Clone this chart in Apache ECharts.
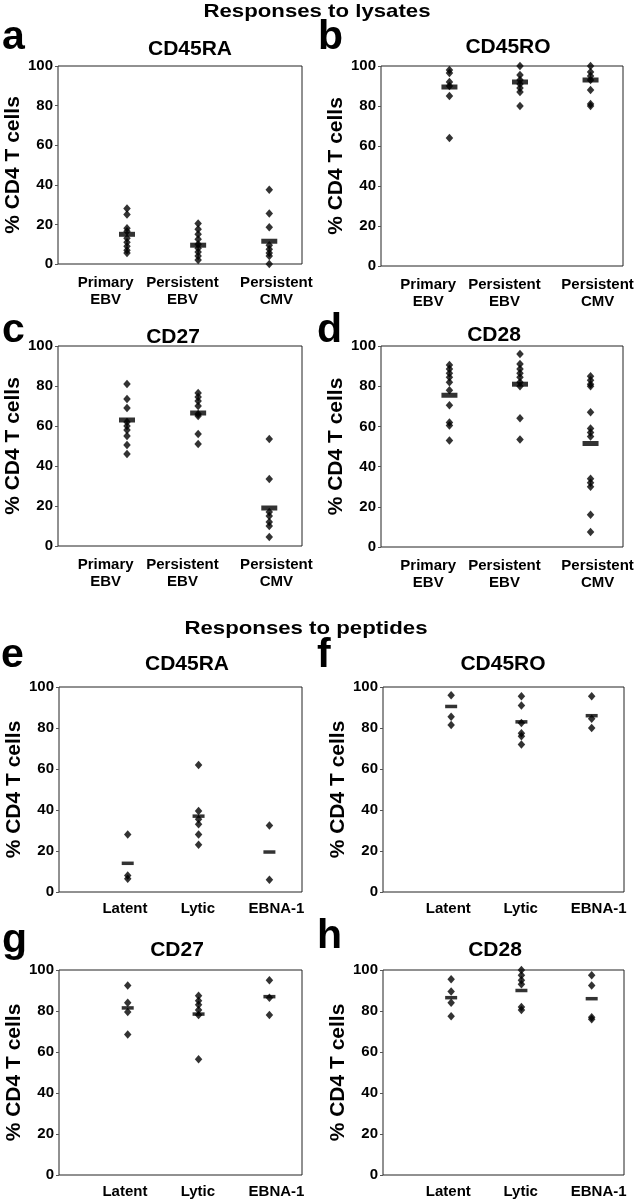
<!DOCTYPE html>
<html>
<head>
<meta charset="utf-8">
<script src="https://cdn.jsdelivr.net/npm/echarts@6/dist/echarts.min.js"></script>
<style>html,body{margin:0;padding:0;background:#fff;}#c{width:638px;height:1200px;}</style>
</head>
<body>
<div id="c"></div>
<script>
// ---------- DATA ----------
const lysateCats = ['Primary\nEBV', 'Persistent\nEBV', 'Persistent\nCMV'];
const peptideCats = ['Latent', 'Lytic', 'EBNA-1'];
const yTicks = [0, 20, 40, 60, 80, 100];

// a: CD45RA, lysates
const aPrimaryEBV = [28, 25, 18, 16.5, 13, 11, 9, 7, 5.5];
const aPersistentEBV = [20.5, 17.5, 15, 12.5, 10, 8, 6, 4, 2];
const aPersistentCMV = [37.5, 25.5, 18.5, 9.5, 7.5, 5.5, 4, 0];
const aMeans = [15, 9.5, 11.5];
// b: CD45RO, lysates
const bPrimaryEBV = [98, 96.5, 92, 90, 85, 64];
const bPersistentEBV = [100, 95.5, 93, 91, 89, 87, 80];
const bPersistentCMV = [100, 97, 95, 93, 88, 81, 80];
const bMeans = [89.5, 92, 93];
// c: CD27, lysates
const cPrimaryEBV = [81, 73.5, 69, 62, 60, 58, 55, 50.5, 46];
const cPersistentEBV = [76.5, 74.5, 72.5, 70, 66, 65, 56, 51];
const cPersistentCMV = [53.5, 33.5, 17, 15, 12, 10, 4.5];
const cMeans = [63, 66.5, 19];
// d: CD28, lysates
const dPrimaryEBV = [90.5, 88.5, 86.5, 84.5, 82, 78, 70.5, 62, 60.5, 53];
const dPersistentEBV = [96, 91, 88.5, 86.5, 84.5, 82, 80, 64, 53.5];
const dPersistentCMV = [85, 83, 81, 80, 67, 59, 57, 55, 34, 32, 30, 16, 7.5];
const dMeans = [75.5, 81, 51.5];
// e: CD45RA, peptides
const eLatent = [28, 8, 6.5];
const eLytic = [62, 39.5, 35.5, 33, 28, 23];
const eEBNA1 = [32.5, 6];
const eMeans = [14, 37, 19.5];
// f: CD45RO, peptides
const fLatent = [96, 85.5, 81.5];
const fLytic = [95.5, 91, 82.5, 77.5, 76, 72];
const fEBNA1 = [95.5, 84.5, 80];
const fMeans = [90.5, 83, 86];
// g: CD27, peptides
const gLatent = [92.5, 84, 79.5, 68.5];
const gLytic = [87.5, 85, 83, 80.5, 78, 56.5];
const gEBNA1 = [95, 86.5, 78];
const gMeans = [81.5, 78.5, 87];
// h: CD28, peptides
const hLatent = [95.5, 89.5, 84, 77.5];
const hLytic = [100, 97.5, 95, 93, 82, 80.5];
const hEBNA1 = [97.5, 92.5, 77, 76];
const hMeans = [86.5, 90, 86];

const headers = ['Responses to lysates', 'Responses to peptides'];
const panelLetters = ['a', 'b', 'c', 'd', 'e', 'f', 'g', 'h'];
const panelTitles = ['CD45RA', 'CD45RO', 'CD27', 'CD28', 'CD45RA', 'CD45RO', 'CD27', 'CD28'];
const yName = '% CD4 T cells';

// ---------- LAYOUT ----------
const FONT = '"Liberation Sans", Arial, Helvetica, sans-serif';
const panels = [
  { groups: [aPrimaryEBV, aPersistentEBV, aPersistentCMV], means: aMeans, cats: lysateCats, grid: { left: 58, top: 66, width: 244, height: 198 } },
  { groups: [bPrimaryEBV, bPersistentEBV, bPersistentCMV], means: bMeans, cats: lysateCats, grid: { left: 381, top: 66, width: 242, height: 200 } },
  { groups: [cPrimaryEBV, cPersistentEBV, cPersistentCMV], means: cMeans, cats: lysateCats, grid: { left: 58, top: 346, width: 244, height: 200 } },
  { groups: [dPrimaryEBV, dPersistentEBV, dPersistentCMV], means: dMeans, cats: lysateCats, grid: { left: 381, top: 346, width: 242, height: 201 } },
  { groups: [eLatent, eLytic, eEBNA1], means: eMeans, cats: peptideCats, grid: { left: 59, top: 687, width: 243, height: 205 } },
  { groups: [fLatent, fLytic, fEBNA1], means: fMeans, cats: peptideCats, grid: { left: 383, top: 687, width: 241, height: 205 } },
  { groups: [gLatent, gLytic, gEBNA1], means: gMeans, cats: peptideCats, grid: { left: 59, top: 970, width: 243, height: 205 } },
  { groups: [hLatent, hLytic, hEBNA1], means: hMeans, cats: peptideCats, grid: { left: 383, top: 970, width: 241, height: 205 } }
];
// label anchor positions (in column units) to mimic the original hand-placed labels
const lysateLabelAt = [-0.3, 0.78, 2.1];
const peptideLabelAt = [-0.04, 0.99, 2.1];

const titlePos = [[190, 57], [508, 55], [173, 345], [494, 343], [187, 672], [503, 672], [177, 958], [495, 958]];
const letterPos = [[2, 52], [318, 52], [2, 345], [317, 345], [1, 670], [317, 670], [2, 955], [317, 951]];
const headerPos = [[317, 18], [306, 635]];

const grids = [], xAxes = [], yAxes = [], series = [], graphics = [];
panels.forEach((p, i) => {
  const lys = p.cats === lysateCats;
  const labelAt = lys ? lysateLabelAt : peptideLabelAt;
  grids.push(Object.assign({ show: true, borderColor: '#222', borderWidth: 1, containLabel: false }, p.grid));
  xAxes.push({
    type: 'value', gridIndex: i, min: -0.97, max: 2.46, position: 'bottom',
    axisLine: { show: false, onZero: false }, axisTick: { show: false }, splitLine: { show: false },
    axisLabel: {
      customValues: labelAt,
      formatter: (v) => { const k = labelAt.indexOf(v); return k >= 0 ? p.cats[k] : ''; },
      fontFamily: FONT, fontSize: 15, fontWeight: 'bold', color: '#000',
      lineHeight: 17, margin: lys ? 10 : 8
    }
  });
  yAxes.push({
    type: 'value', gridIndex: i, min: 0, max: 100, interval: 20, position: 'left',
    name: yName, nameLocation: 'middle', nameGap: 32,
    nameTextStyle: { fontFamily: FONT, fontSize: 21, fontWeight: 'bold', color: '#000' },
    axisLine: { show: false, onZero: false },
    axisTick: { show: true, length: 3, inside: false, lineStyle: { color: '#555' } },
    splitLine: { show: false },
    axisLabel: {
      customValues: yTicks,
      fontFamily: FONT, fontSize: 15, fontWeight: 'bold', color: '#000', margin: 5
    }
  });
  const pts = [];
  p.groups.forEach((g, ci) => g.forEach(v => pts.push([ci, v])));
  series.push({
    type: 'scatter', xAxisIndex: i, yAxisIndex: i, data: pts, clip: false,
    symbol: 'diamond', symbolSize: [7.5, 8.5], itemStyle: { color: '#000' },
    emphasis: { disabled: true }, z: 3
  });
  series.push({
    type: 'scatter', xAxisIndex: i, yAxisIndex: i, data: p.means.map((m, ci) => [ci, m]), clip: false,
    symbol: 'rect', symbolSize: lys ? [16, 5] : [12, 3.5], itemStyle: { color: '#000' },
    emphasis: { disabled: true }, z: 4
  });
  graphics.push({
    type: 'text', x: titlePos[i][0], y: titlePos[i][1] - 7.5,
    style: { text: panelTitles[i], font: 'bold 21px ' + FONT, fill: '#000', align: 'center', verticalAlign: 'middle' }
  });
  graphics.push({
    type: 'text', x: letterPos[i][0], y: letterPos[i][1] - 14,
    style: { text: panelLetters[i], font: 'bold 41px ' + FONT, fill: '#000', align: 'left', verticalAlign: 'middle' }
  });
});
headers.forEach((h, k) => {
  graphics.push({
    type: 'text', x: headerPos[k][0], y: headerPos[k][1] - 6.5, scaleX: 1.2, scaleY: 1,
    style: { text: h, font: 'bold 18.5px ' + FONT, fill: '#000', align: 'center', verticalAlign: 'middle' }
  });
});

const chart = echarts.init(document.getElementById('c'), null, { renderer: 'canvas' });
chart.setOption({
  backgroundColor: '#fff',
  animation: false,
  grid: grids, xAxis: xAxes, yAxis: yAxes, series: series,
  graphic: graphics
});
</script>
</body>
</html>
